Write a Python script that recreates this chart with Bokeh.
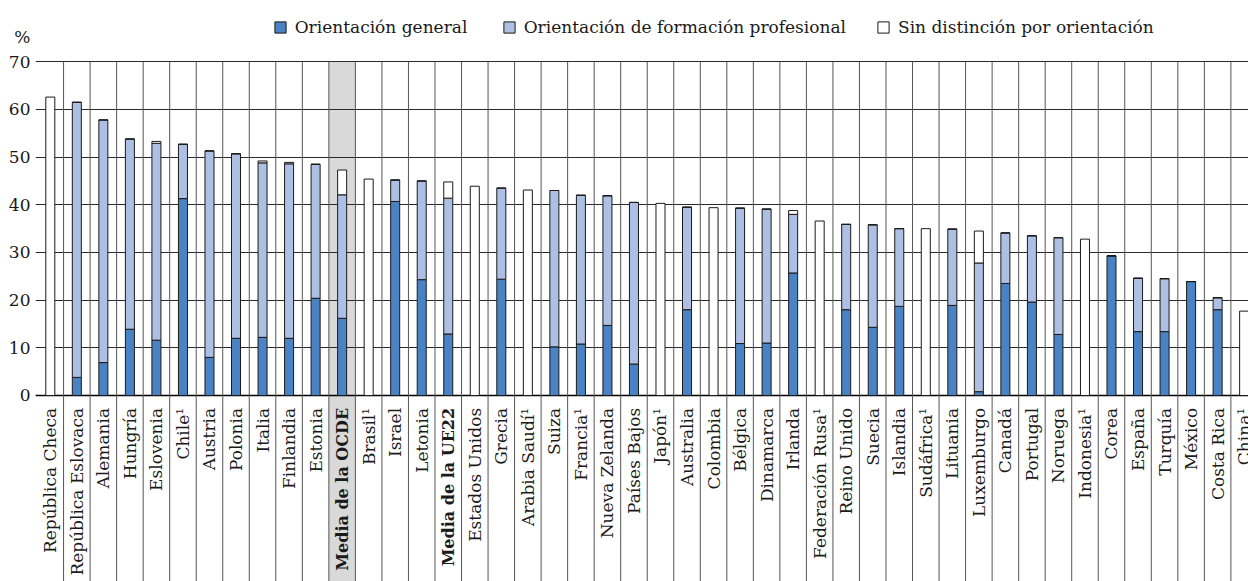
import math
from bokeh.plotting import figure
from bokeh.models import Range1d, FixedTicker, Legend, LegendItem, Span, ColumnDataSource
from bokeh.embed import file_html
from bokeh.resources import INLINE
from bokeh.core.properties import value

categories = [
    "República Checa", "República Eslovaca", "Alemania", "Hungría", "Eslovenia",
    "Chile¹", "Austria", "Polonia", "Italia", "Finlandia", "Estonia",
    "Media de la OCDE", "Brasil¹", "Israel", "Letonia", "Media de la UE22",
    "Estados Unidos", "Grecia", "Arabia Saudí¹", "Suiza", "Francia¹",
    "Nueva Zelanda", "Países Bajos", "Japón¹", "Australia", "Colombia",
    "Bélgica", "Dinamarca", "Irlanda", "Federación Rusa¹", "Reino Unido",
    "Suecia", "Islandia", "Sudáfrica¹", "Lituania", "Luxemburgo", "Canadá",
    "Portugal", "Noruega", "Indonesia¹", "Corea", "España", "Turquía",
    "México", "Costa Rica", "China¹",
]
general = [
    0.0, 3.8, 6.9, 13.9, 11.6, 41.3, 8.0, 12.0, 12.2, 12.0, 20.4,
    16.2, 0.0, 40.7, 24.3, 12.9, 0.0, 24.4, 0.0, 10.2, 10.8,
    14.7, 6.6, 0.0, 18.0, 0.0, 10.9, 11.0, 25.7, 0.0, 18.0,
    14.3, 18.7, 0.0, 18.9, 0.8, 23.5, 19.6, 12.8, 0.0, 29.3,
    13.4, 13.4, 23.9, 18.0, 0.0,
]
vocational = [
    0.0, 57.7, 50.9, 39.9, 41.3, 11.4, 43.3, 38.7, 36.6, 36.6, 28.1,
    25.9, 0.0, 4.5, 20.7, 28.5, 0.0, 19.1, 0.0, 32.8, 31.2,
    27.2, 33.9, 0.0, 21.5, 0.0, 28.4, 28.1, 12.3, 0.0, 17.9,
    21.5, 16.3, 0.0, 16.0, 27.0, 10.6, 13.9, 20.3, 0.0, 0.0,
    11.2, 11.1, 0.0, 2.5, 0.0,
]
no_distinction = [
    62.6, 0.0, 0.0, 0.0, 0.4, 0.0, 0.0, 0.0, 0.4, 0.3, 0.0,
    5.2, 45.4, 0.0, 0.0, 3.4, 43.9, 0.0, 43.1, 0.0, 0.0,
    0.0, 0.0, 40.3, 0.0, 39.4, 0.0, 0.0, 0.8, 36.6, 0.0,
    0.0, 0.0, 35.0, 0.0, 6.7, 0.0, 0.0, 0.0, 32.8, 0.0,
    0.0, 0.0, 0.0, 0.0, 17.7,
]
bold_categories = ["Media de la OCDE", "Media de la UE22"]
highlight_category = "Media de la OCDE"
y_ticks = [0, 10, 20, 30, 40, 50, 60, 70]
series_names = ["Orientación general", "Orientación de formación profesional",
                "Sin distinción por orientación"]
unit_label = "%"
unit_label_pos = 75.1

FONT = "DejaVu Serif"
C_GEN = "#4a83c3"
C_VOC = "#adc0e3"
C_NO = "#ffffff"
C_EDGE = "#1a1a1a"

n = len(categories)
xs = list(range(n))
v_top = [g + v for g, v in zip(general, vocational)]
n_top = [t + d for t, d in zip(v_top, no_distinction)]

src = ColumnDataSource(dict(x=xs, g=general, vt=v_top, nt=n_top, label=categories))

Y_START, Y_END = -39.02, 82.86
X_START, X_END = -0.558, 45.164

p = figure(width=1248, height=581,
           x_range=Range1d(X_START, X_END), y_range=Range1d(Y_START, Y_END),
           output_backend="svg", toolbar_location=None,
           x_axis_location=None, y_axis_location="left",
           min_border_left=35, min_border_right=0, min_border_top=0, min_border_bottom=0)
p.outline_line_color = None
p.background_fill_color = "white"
p.xgrid.visible = False

yax = p.yaxis[0]
yax.ticker = FixedTicker(ticks=y_ticks + [unit_label_pos])
yax.major_label_overrides = {unit_label_pos: unit_label}
yax.axis_line_color = None
yax.major_tick_line_color = None
yax.minor_tick_line_color = None
yax.major_tick_out = 0
yax.major_tick_in = 0
yax.major_label_standoff = 5
yax.major_label_text_font = FONT
yax.major_label_text_font_size = "17px"
yax.major_label_text_color = "#1a1a1a"

p.ygrid.ticker = FixedTicker(ticks=y_ticks)
p.ygrid.grid_line_color = "#2a2a2a"
p.ygrid.grid_line_width = 1

# highlighted column (OECD average)
hi = categories.index(highlight_category)
p.quad(left=[hi - 0.5], right=[hi + 0.5], bottom=[Y_START], top=[y_ticks[-1]],
       fill_color="#d9d9d9", line_color=None, level="image")

p.add_layout(Span(location=0, dimension="width", line_color="#000000",
                  line_width=1.3, level="underlay"))

# column separators
sep_x = [i + 0.5 for i in range(n - 1)]
p.segment(x0=sep_x, x1=sep_x, y0=[Y_START] * len(sep_x), y1=[y_ticks[-1]] * len(sep_x),
          line_color="#555555", line_width=1)

W = 0.34
r_g = p.vbar(x="x", width=W, bottom=0, top="g", source=src,
             fill_color=C_GEN, line_color=C_EDGE, line_width=1)
r_v = p.vbar(x="x", width=W, bottom="g", top="vt", source=src,
             fill_color=C_VOC, line_color=C_EDGE, line_width=1)
r_n = p.vbar(x="x", width=W, bottom="vt", top="nt", source=src,
             fill_color=C_NO, line_color=C_EDGE, line_width=1)

# category labels
LABEL_Y = -2.6
normal_idx = [i for i, c in enumerate(categories) if c not in bold_categories]
bold_idx = [i for i, c in enumerate(categories) if c in bold_categories]
for idxs, style, size in ((normal_idx, "normal", "17px"), (bold_idx, "bold", "16px")):
    p.text(x=[xs[i] for i in idxs], y=[LABEL_Y] * len(idxs),
           text=[categories[i] for i in idxs], angle=math.pi / 2,
           text_align="right", text_baseline="middle",
           text_font=value(FONT), text_font_size=size, text_font_style=style,
           text_color="#1a1a1a")

# legends (three separate entries to match spacing)
legend_x = [237.7, 466.7, 841.0]
for name, r, lx in zip(series_names, (r_g, r_v, r_n), legend_x):
    lg = Legend(items=[LegendItem(label=name, renderers=[r])],
                location=(lx, 544.0), orientation="horizontal",
                padding=0, margin=0, spacing=0,
                border_line_color=None, background_fill_alpha=0,
                glyph_width=14, glyph_height=14, label_standoff=8,
                label_height=14, label_text_font=FONT, label_text_font_size="17px",
                label_text_color="#1a1a1a", label_text_baseline="middle")
    p.add_layout(lg)

open("out.html", "w").write(file_html(p, INLINE))
